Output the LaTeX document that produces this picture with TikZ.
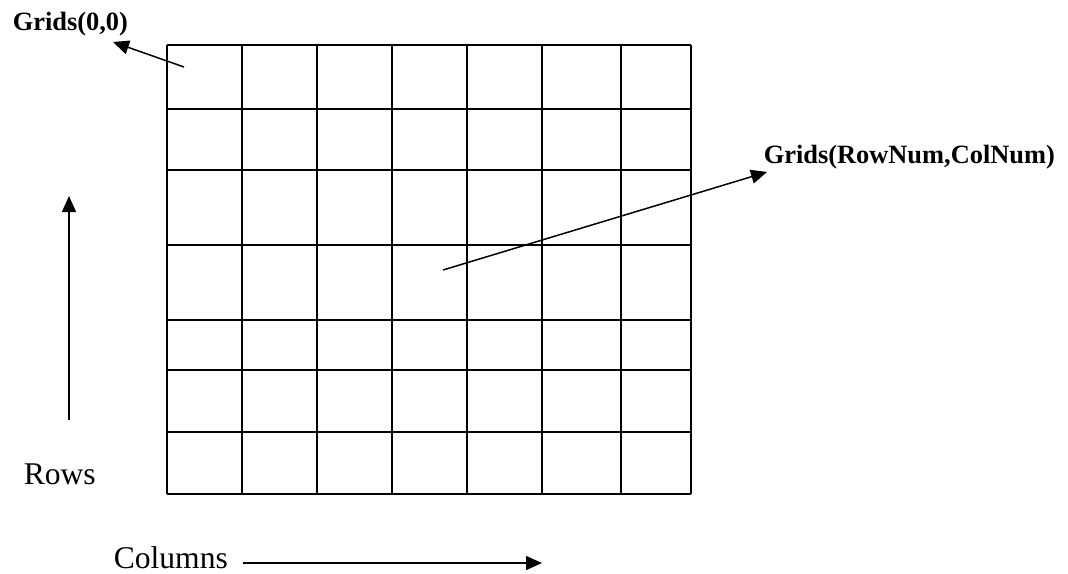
\documentclass[tikz,border=0pt]{standalone}
\usepackage{fontspec}
\setmainfont{Liberation Serif}
\usetikzlibrary{arrows.meta}
\tikzset{
  biglabel/.style={anchor=base west, inner sep=0pt, font=\fontsize{31.6}{36}\selectfont},
  gridlabel/.style={anchor=base west, inner sep=0pt, font=\fontsize{26.4}{30}\selectfont\bfseries},
}
\begin{document}
\begin{tikzpicture}[x=1pt, y=-1pt, line width=1.5pt, >={Triangle[length=16pt,width=14pt]}]
    \useasboundingbox (0,0) rectangle (1068,573);
    % the grid
    \foreach \x in {167,242,317,392,467,542,621,691}
      \draw (\x,45) -- (\x,494);
    \foreach \y in {45,109,170,245,320,370,432,494}
      \draw (167,\y) -- (691,\y);

    \node[gridlabel] (first) at (12,30) {Grids(0,0)};
    \node[gridlabel] (last) at (763,163) {Grids(RowNum,ColNum)};
    \node[biglabel] (rows) at (23,484) {Rows};
    \node[biglabel] (cols) at (113,568) {Columns};

    \coordinate (firstcell) at (184,67);
    \coordinate (firsttip) at (113,42);
    \coordinate (lastcell) at (443,270);
    \coordinate (lasttip) at (767,172);
    \draw[->] (firstcell) -- (firsttip);
    \draw[->] (lastcell) -- (lasttip);

    \coordinate (rowfoot) at (69,420);
    \coordinate (rowtip) at (69,196);
    \coordinate (colfoot) at (243,563);
    \coordinate (coltip) at (542,563);
    \draw[->] (rowfoot) -- (rowtip);
    \draw[->] (colfoot) -- (coltip);
\end{tikzpicture}
\end{document}
